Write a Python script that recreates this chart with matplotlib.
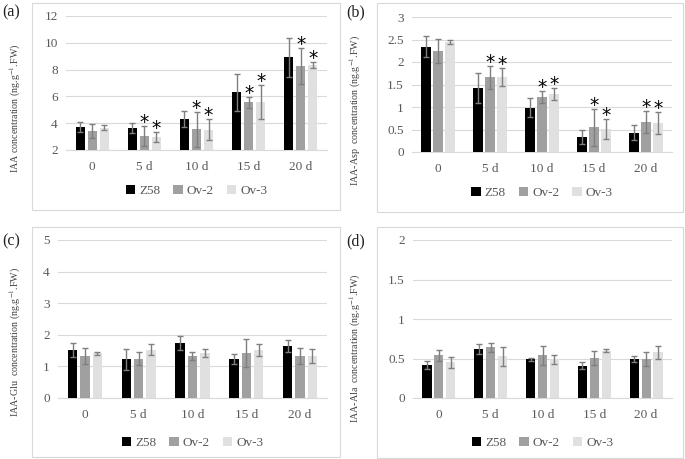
import matplotlib.pyplot as plt
import numpy as np
from matplotlib.patches import Rectangle

plt.rcParams['font.family'] = ['Liberation Serif', 'DejaVu Serif']
plt.rcParams['mathtext.fontset'] = 'stix'

days = ['0', '5 d', '10 d', '15 d', '20 d']
lines = ['Z58', 'Ov-2', 'Ov-3']
colors = ['#000000', '#a0a0a0', '#e0e0e0']

# (a) IAA
iaa_z58 = [3.74, 3.65, 4.33, 6.30, 8.92]
iaa_ov2 = [3.42, 3.05, 3.55, 5.55, 8.27]
iaa_ov3 = [3.67, 2.97, 3.52, 5.60, 8.35]
iaa_z58_err = [0.37, 0.40, 0.58, 1.37, 1.46]
iaa_ov2_err = [0.52, 0.75, 1.31, 0.41, 1.37]
iaa_ov3_err = [0.17, 0.40, 0.80, 1.25, 0.24]

# (b) IAA-Asp
asp_z58 = [2.34, 1.43, 0.98, 0.34, 0.43]
asp_ov2 = [2.25, 1.66, 1.23, 0.55, 0.67]
asp_ov3 = [2.45, 1.66, 1.29, 0.51, 0.65]
asp_z58_err = [0.23, 0.33, 0.21, 0.16, 0.16]
asp_ov2_err = [0.27, 0.25, 0.13, 0.41, 0.25]
asp_ov3_err = [0.05, 0.20, 0.13, 0.22, 0.24]

# (c) IAA-Glu
glu_z58 = [1.53, 1.23, 1.75, 1.23, 1.65]
glu_ov2 = [1.32, 1.25, 1.33, 1.43, 1.32]
glu_ov3 = [1.41, 1.53, 1.43, 1.53, 1.33]
glu_z58_err = [0.22, 0.33, 0.22, 0.15, 0.18]
glu_ov2_err = [0.25, 0.22, 0.13, 0.44, 0.25]
glu_ov3_err = [0.06, 0.17, 0.13, 0.19, 0.23]

# (d) IAA-Ala
ala_z58 = [0.42, 0.62, 0.49, 0.41, 0.49]
ala_ov2 = [0.54, 0.64, 0.54, 0.51, 0.49]
ala_ov3 = [0.45, 0.53, 0.49, 0.60, 0.58]
ala_z58_err = [0.05, 0.06, 0.02, 0.04, 0.04]
ala_ov2_err = [0.07, 0.06, 0.12, 0.09, 0.09]
ala_ov3_err = [0.07, 0.12, 0.06, 0.02, 0.08]

# significance marks: (day index, line index)
iaa_stars = [(1, 1), (1, 2), (2, 1), (2, 2), (3, 1), (3, 2), (4, 1), (4, 2)]
asp_stars = [(1, 1), (1, 2), (2, 1), (2, 2), (3, 1), (3, 2), (4, 1), (4, 2)]

W, H = 685, 459
fig = plt.figure(figsize=(W / 100, H / 100), dpi=100)


def px_axes(x0, y0, x1, y1):
    return fig.add_axes([x0 / W, 1 - y1 / H, (x1 - x0) / W, (y1 - y0) / H])


def box(x0, y0, x1, y1):
    fig.patches.append(Rectangle((x0 / W, 1 - y1 / H), (x1 - x0) / W, (y1 - y0) / H,
                                 transform=fig.transFigure, fill=False,
                                 edgecolor='#d9d9d9', linewidth=0.8))


def panel(plot_px, box_px, label_xy, tag, series, errs, ylim, yticks, yfmt, ylabel, stars, ylabel_xy):
    box(*box_px)
    ax = px_axes(*plot_px)
    x = np.arange(len(days))
    step = 0.23
    bw = 0.175
    tops = {}
    for i, (vals, err) in enumerate(zip(series, errs)):
        pos = x + (i - 1) * step
        ax.bar(pos, vals, bw, color=colors[i], label=lines[i], zorder=2)
        ax.errorbar(pos, vals, yerr=err, fmt='none', ecolor='#7f7f7f',
                    elinewidth=1, capsize=2.5, capthick=1, zorder=3)
        for j in range(len(days)):
            tops[(j, i)] = (pos[j], vals[j] + err[j])
    for key in stars:
        px, top = tops[key]
        ax.annotate('*', (px, top), xytext=(0, -2), textcoords='offset pixels',
                    ha='center', va='baseline', fontsize=13.5, color='black',
                    family='DejaVu Sans', zorder=4)
    ax.set_ylim(*ylim)
    ax.set_xlim(-0.5, len(days) - 0.5)
    ax.set_yticks(yticks)
    ax.set_yticklabels([yfmt(v) for v in yticks])
    ax.set_xticks(x)
    ax.set_xticklabels(days)
    ax.yaxis.grid(True, color='#d9d9d9', linewidth=0.8, zorder=0)
    ax.set_axisbelow(True)
    for s in ['top', 'right', 'left']:
        ax.spines[s].set_visible(False)
    ax.spines['bottom'].set_color('#d9d9d9')
    ax.spines['bottom'].set_zorder(1)
    ax.tick_params(axis='both', length=0, colors='#595959', labelsize=9.5)
    ax.tick_params(axis='x', pad=8)
    ax.tick_params(axis='y', pad=6)
    ax.set_facecolor('none')
    ax.legend(loc='upper center', bbox_to_anchor=(0.5, -0.17), ncol=3, frameon=False,
              handlelength=0.7, handleheight=0.7, handletextpad=0.3, columnspacing=1.0,
              fontsize=9.5, labelcolor='#595959')
    fig.text(ylabel_xy[0] / W, 1 - ylabel_xy[1] / H, ylabel,
             rotation=90, ha='center', va='center', fontsize=7.2, color='#404040')
    fig.text(label_xy[0] / W, 1 - label_xy[1] / H, tag, ha='left', va='center',
             fontsize=11.5, color='#202020')
    return ax


def fmt_int(v):
    return '%d' % v


def fmt_dec(v):
    return ('%g' % v)


panel((66, 16, 327, 150), (32, 3, 340, 210), (2, 12), '(a)',
      [iaa_z58, iaa_ov2, iaa_ov3], [iaa_z58_err, iaa_ov2_err, iaa_ov3_err],
      (2, 12), [2, 4, 6, 8, 10, 12], fmt_int,
      'IAA concentration (ng.g$^{-1}$.FW)', iaa_stars, (15, 108))

panel((412, 17, 672, 152), (377, 3, 683, 212), (346, 12), '(b)',
      [asp_z58, asp_ov2, asp_ov3], [asp_z58_err, asp_ov2_err, asp_ov3_err],
      (0, 3), [0, 0.5, 1, 1.5, 2, 2.5, 3], fmt_dec,
      'IAA-Asp  concentration (ng.g$^{-1}$.FW)', asp_stars, (355, 110))

panel((58, 240, 327, 398), (32, 227, 340, 457), (2, 241), '(c)',
      [glu_z58, glu_ov2, glu_ov3], [glu_z58_err, glu_ov2_err, glu_ov3_err],
      (0, 5), [0, 1, 2, 3, 4, 5], fmt_int,
      'IAA-Glu  concentration (ng.g$^{-1}$.FW)', [], (15, 342))

panel((413, 240, 672, 398), (377, 227, 683, 458), (346, 241), '(d)',
      [ala_z58, ala_ov2, ala_ov3], [ala_z58_err, ala_ov2_err, ala_ov3_err],
      (0, 2), [0, 0.5, 1, 1.5, 2], fmt_dec,
      'IAA-Ala  concentration (ng.g$^{-1}$.FW)', [], (355, 348))

fig.savefig('out.png', dpi=100)
